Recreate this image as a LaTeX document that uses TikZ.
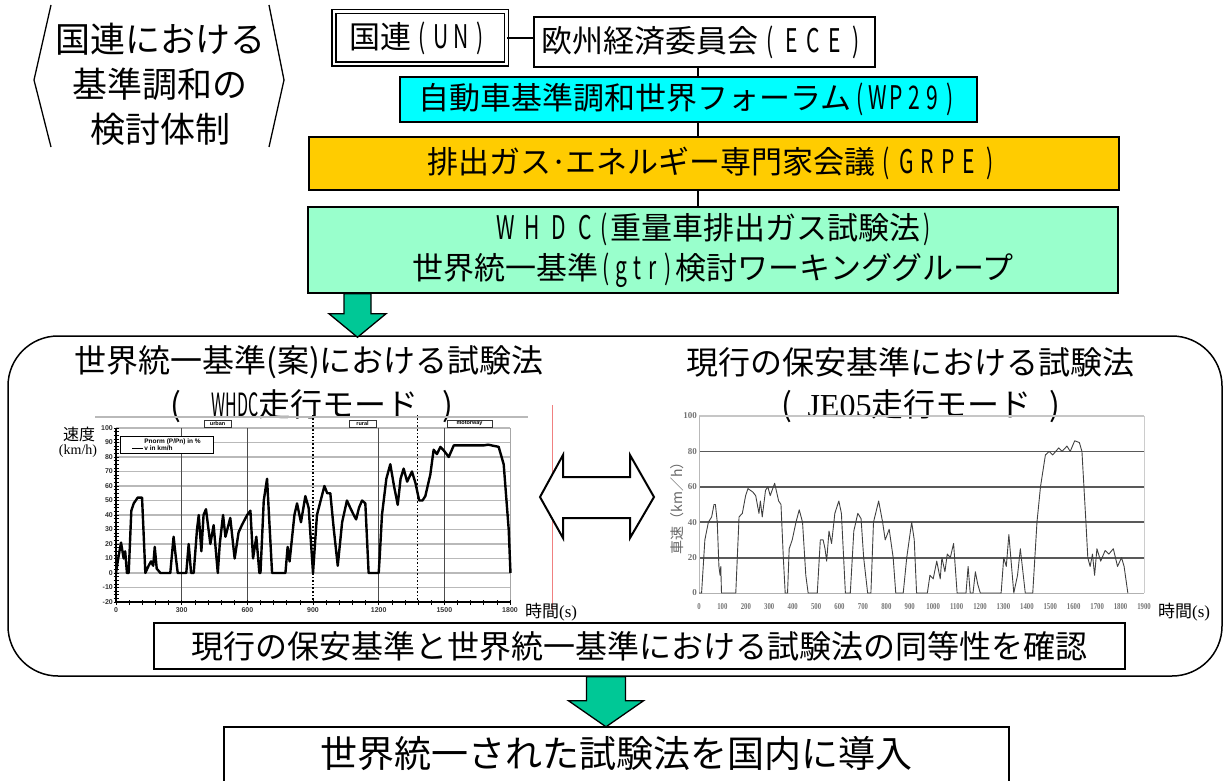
\documentclass[tikz,border=0pt]{standalone}
\usepackage{fontspec}
\usepackage{graphicx}
\setmainfont{Noto Sans CJK JP}
\newfontfamily\lsans{Liberation Sans}
\newfontfamily\lserif{Liberation Serif}
\usetikzlibrary{calc}
\definecolor{wpcyan}{HTML}{00FFFF}
\definecolor{grpegold}{HTML}{FFCC00}
\definecolor{whdcmint}{HTML}{99FFCC}
\definecolor{arrowgreen}{HTML}{00C896}
\definecolor{redline}{HTML}{F08080}
\makeatletter
\newcommand\lspaced[2]{\def\lsp@w{#1}\lsp@loop#2\@nil}
\def\lsp@loop#1{\ifx\@nil#1\else\makebox[\lsp@w][c]{\scalebox{0.68}[1.05]{#1}}\expandafter\lsp@loop\fi}
\makeatother
\begin{document}
\begin{tikzpicture}[x=1pt,y=-1pt,
  box/.style={draw=black, line width=1.5pt, inner sep=0pt, align=center},
  f31/.style={font=\fontsize{31}{31}\selectfont},
  f32/.style={font=\fontsize{32}{32}\selectfont},
  conn/.style={draw=black, line width=2.2pt},
  garrow/.style={fill=arrowgreen, draw=black, line width=1.3pt, line join=miter},
  lax/.style={font=\lsans\bfseries\fontsize{7}{7}\selectfont, text=black!80, inner sep=0pt},
  rlax/.style={font=\lserif\bfseries\fontsize{9}{9}\selectfont, text=black!55, inner sep=0pt},
  rlab/.style={draw=black!80, line width=0.6pt, fill=white, font=\lsans\bfseries\fontsize{5.5}{5.5}\selectfont, inner sep=1pt, minimum height=7pt},
  whdctrace/.style={line width=2.4pt, line join=round, black},
  jetrace/.style={line width=0.9pt, line join=round, black!75}]
\useasboundingbox (0,0) rectangle (1225,781);

% ---- left heading with angle brackets
\node[align=center, font=\fontsize{35}{45}\selectfont] (lbl) at (160,84) {国連における\\基準調和の\\検討体制};
\draw[line width=1.3pt] (51,5) -- (34,80) -- (51,147);
\draw[line width=1.3pt] (269,5) -- (284,80) -- (269,147);

% ---- organisation boxes
\node[box, f31, double=white, double distance=2.5pt, minimum width=172.5pt, minimum height=52.5pt] (un) at (420,38) {国連\lspaced{0.63em}{(UN)}};
\node[box, f31, minimum width=341pt, minimum height=50pt] (ece) at (704.5,42) {欧州経済委員会\lspaced{0.7em}{(ECE)}};
\node[box, f31, fill=wpcyan, minimum width=577pt, minimum height=45pt] (wp) at (688.5,99.5) {自動車基準調和世界フォーラム\lspaced{0.58em}{(WP29)}};
\node[box, f31, fill=grpegold, minimum width=810pt, minimum height=53pt] (grpe) at (714,163.5) {排出ガス\makebox[0.45em]{·}エネルギー専門家会議\lspaced{0.67em}{(GRPE)}};
\node[box, fill=whdcmint, minimum width=810pt, minimum height=86pt, font=\fontsize{31}{40}\selectfont] (whdc) at (713,250) {\lspaced{0.85em}{WHDC}\lspaced{0.4em}{(}重量車排出ガス試験法\lspaced{0.4em}{)}\\世界統一基準\lspaced{0.5em}{(gtr)}検討ワーキンググループ};

\coordinate (vx) at (698,0);
\draw[conn] (un.east) -- (un.east -| ece.west);
\draw[conn] (ece.south -| vx) -- (wp.north -| vx);
\draw[conn] (wp.south -| vx) -- (grpe.north -| vx);
\draw[conn] (grpe.south -| vx) -- (whdc.north -| vx);

% ---- big rounded frame
\node[draw=black, line width=1.5pt, rounded corners=50pt, minimum width=1214pt, minimum height=340pt] (big) at (615,506) {};

% arrow WHDC -> frame
\coordinate (ax1) at (357.5,0);
\draw[garrow] ($(whdc.south -| ax1)+(-13.5,0)$) -- ++(0,20) -- ++(-15,0) -- ($(big.north -| ax1)+(0,2)$) -- ($(whdc.south -| ax1)+(28.5,20)$) -- ++(-15,0) -- ++(0,-20) -- cycle;

% ---- titles
\node[f32] (lt1) at (309,362) {世界統一基準(案)における試験法};
\node[f32] (lt2) at (312,406) {(\hspace{30pt}\scalebox{0.5}[1]{WHDC}走行モード\hspace{24pt})};
\node[f32] (rt1) at (910,362) {現行の保安基準における試験法};
\node[f32] (rt2) at (921,406) {(\hspace{15pt}{\lserif JE05}走行モード\hspace{18pt})};

% ---- left chart (WHDC)
\draw[gray!55, line width=1.5pt] (95,417) -- (528,417);
\begin{scope}[shift={(116,573)}, x=0.2189pt, y=1.45pt]
  \foreach \v in {-20,-10,...,100} \draw[gray!55, line width=1.1pt] (0,\v) -- (1800,\v);
  \foreach \t in {300,600,1200,1500} \draw[black!70, line width=1pt] (\t,-20) -- (\t,100);
  \draw[gray!70, line width=1pt] (1800,-20) -- (1800,100);
  \draw[black, line width=1.6pt, dotted] (900,-21) -- (900,109);
  \draw[black, line width=1.6pt, dotted] (1378,-21) -- (1378,109);
  \draw[black, line width=1.2pt] (0,100) -- (0,-20) -- (1800,-20);
  \foreach \v in {-20,-17.5,...,100} \draw[black, line width=0.6pt] (0,\v) ++(-2.5pt,0pt) -- ++(5pt,0pt);
  \foreach \t in {0,60,...,1800} \draw[black, line width=0.6pt] (\t,-20) ++(0pt,-2.5pt) -- ++(0pt,5pt);
  \foreach \v in {-20,-10,...,100} \node[lax, anchor=east, xshift=-3pt] (ly\v) at (0,\v) {\v};
  \foreach \t in {0,300,...,1800} \node[lax, anchor=north, yshift=-5pt] (lx\t) at (\t,-20) {\t};
  \node[draw=black, line width=0.6pt, fill=white, align=left, inner sep=1pt, minimum width=93pt, minimum height=17pt, font=\lsans\bfseries\fontsize{6.5}{7.5}\selectfont] (leg) at (231,88.6) {\hspace{12pt}Pnorm (P/Pn) in \%\\\rule[0.25em]{11pt}{1pt}\,v in km/h};
  \node[rlab, minimum width=27pt] (urb) at (464,103) {urban};
  \node[rlab, minimum width=27pt] (rur) at (1126,103) {rural};
  \node[rlab, minimum width=45pt] (mot) at (1615,103) {motorway};
  \draw[whdctrace] plot coordinates {(0,0) (10,10) (23,21) (35,10) (42,15) (50,0) (58,0) (70,43) (81,48) (99,52) (119,52) (134,0) (149,5) (160,8) (170,5) (177,18) (186,3) (203,0) (248,0) (263,25) (274,10) (282,0) (321,0) (332,20) (343,0) (355,0) (370,30) (378,40) (390,15) (400,40) (411,44) (431,20) (446,33) (465,0) (474,20) (489,40) (500,25) (522,38) (542,10) (560,28) (575,33) (599,40) (614,43) (626,10) (641,25) (655,0) (660,0) (675,50) (690,65) (713,0) (774,0) (784,18) (793,8) (815,40) (827,48) (845,35) (865,53) (880,45) (900,0) (918,40) (952,60) (965,55) (979,55) (995,30) (1013,5) (1033,35) (1055,50) (1070,45) (1086,40) (1097,37) (1110,45) (1124,50) (1139,48) (1154,0) (1200,0) (1205,12) (1215,40) (1235,65) (1253,75) (1270,60) (1287,47) (1300,65) (1314,72) (1330,63) (1352,70) (1368,62) (1385,50) (1400,50) (1413,53) (1436,68) (1451,85) (1466,82) (1482,87) (1500,84) (1520,80) (1543,88) (1680,88) (1700,88.5) (1748,87) (1771,75) (1794,30) (1802,0)};
\end{scope}
\node[font=\fontsize{16}{16}\selectfont] (sokudo) at (79,434) {速度};
\node[font=\lserif\fontsize{14}{14}\selectfont] (kmh) at (78,451) {(km/h)};
\draw[redline, line width=1pt] (552,405) -- (552,612);
\node[anchor=west, inner sep=0pt, font=\fontsize{17}{17}\selectfont] (jk1) at (525,612) {時間{\lserif(s)}};

% ---- double arrow between the charts
\draw[fill=white, draw=black, line width=2pt, line join=miter] (540,497) -- (563,455) -- (563,477) -- (630,477) -- (630,455) -- (654,497) -- (630,538) -- (630,518) -- (563,518) -- (563,538) -- cycle;

% ---- right chart (JE05)
\begin{scope}[shift={(699,593)}, x=0.2342pt, y=1.77pt]
  \foreach \v in {20,40,60,80} \draw[black!65, line width=1.8pt] (0,\v) -- (1900,\v);
  \draw[gray!45, line width=1.5pt] (0,100) -- (1900,100);
  \draw[gray!60, line width=1pt] (0,0) -- (1900,0);
  \draw[gray!55, line width=1pt] (0,0) -- (0,100);
  \draw[gray!40, line width=1pt] (1900,0) -- (1900,100);
  \foreach \v in {0,20,...,100} \node[rlax, anchor=east, xshift=-2pt] (ry\v) at (0,\v) {\v};
  \foreach \t in {0,100,...,1900} \node[rlax, yshift=-14pt] (rx\t) at (\t,0) {\scalebox{0.75}[1]{\t}};
  \draw[jetrace] plot coordinates {(0,0) (11,0) (25,30) (40,40) (54,43) (64,50) (70,50) (78,40) (85,15) (90,10) (93,15) (96,0) (157,0) (171,43) (185,45) (199,55) (209,59) (230,57) (242,55) (256,45) (262,52) (270,43) (284,58) (294,60) (304,55) (323,62) (340,52) (350,50) (360,20) (368,0) (378,0) (385,25) (398,30) (414,40) (428,47) (442,40) (456,10) (466,0) (505,0) (518,30) (530,30) (538,25) (545,18) (555,35) (566,28) (580,45) (597,52) (608,45) (625,0) (646,0) (661,35) (678,45) (692,42) (703,20) (720,0) (734,0) (745,40) (767,52) (784,40) (795,30) (812,36) (829,20) (840,0) (872,0) (887,20) (908,40) (919,30) (929,0) (975,0) (986,10) (1000,8) (1015,18) (1030,8) (1037,20) (1050,12) (1060,22) (1073,20) (1087,28) (1102,0) (1140,0) (1149,15) (1158,0) (1170,0) (1180,12) (1190,5) (1201,0) (1290,0) (1301,20) (1312,15) (1323,33) (1344,0) (1360,10) (1372,25) (1393,0) (1425,0) (1443,40) (1458,60) (1479,78) (1495,80) (1510,78) (1536,82) (1550,80) (1571,83) (1585,80) (1604,86) (1624,85) (1635,80) (1652,40) (1660,20) (1670,15) (1680,22) (1689,10) (1699,25) (1715,18) (1734,24) (1750,22) (1769,25) (1787,15) (1804,20) (1815,15) (1831,0)};
\end{scope}
\node[rotate=90, text=black!60, inner sep=0pt, font=\fontsize{14}{14}\selectfont] (shasoku) at (677,505) {車速（km／h）};
\node[anchor=west, inner sep=0pt, font=\fontsize{17}{17}\selectfont] (jk2) at (1158,612) {時間{\lserif(s)}};

% ---- comparison box
\node[box, fill=white, minimum width=971pt, minimum height=46pt, font=\fontsize{32}{32}\selectfont] (cmp) at (639.5,646) {現行の保安基準と世界統一基準における試験法の同等性を確認};

% ---- final box (continues below the page)
\node[minimum width=785pt, minimum height=54pt, inner sep=0pt, font=\fontsize{37}{37}\selectfont] (fin) at (616.5,754) {世界統一された試験法を国内に導入};
\draw[line width=1.5pt] (fin.south west) -- (fin.north west) -- (fin.north east) -- (fin.south east);

% arrow frame -> final box
\coordinate (ax2) at (606,0);
\draw[garrow] ($(big.south -| ax2)+(-19.5,0)$) -- ++(0,24) -- ++(-18,0) -- (fin.north -| ax2) -- ($(big.south -| ax2)+(37.5,24)$) -- ++(-18,0) -- ++(0,-24) -- cycle;
\end{tikzpicture}
\end{document}
